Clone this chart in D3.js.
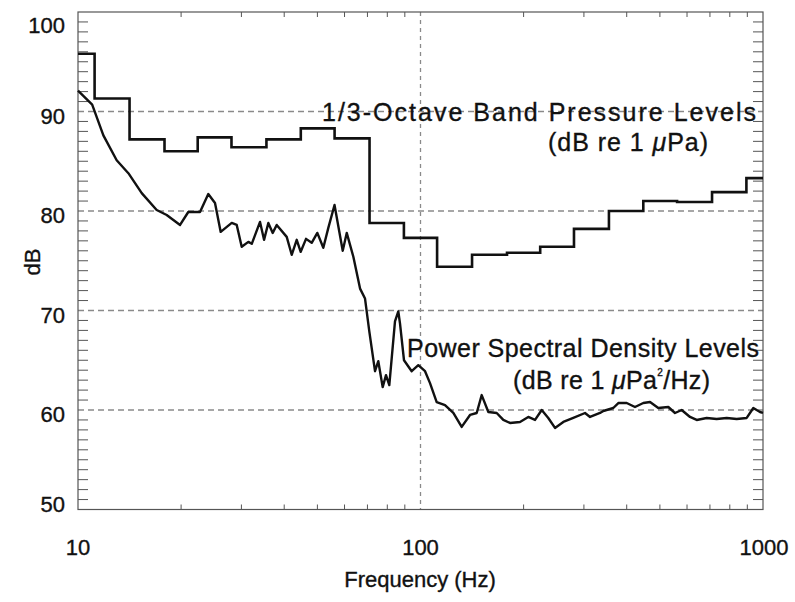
<!DOCTYPE html>
<html>
<head>
<meta charset="utf-8">
<script src="https://cdn.jsdelivr.net/npm/d3@7"></script>
<style>
  html, body { margin: 0; padding: 0; background: #fff; }
  svg { display: block; }
  text { font-family: "Liberation Sans", Arial, Helvetica, sans-serif; fill: #111; stroke: #111; stroke-width: 0.35px; }
</style>
</head>
<body>
<svg id="chart" width="795" height="602"></svg>
<script>
// 1/3-octave band centre frequencies (Hz) and band pressure levels (dB re 1 uPa)
const bandCenters = [10, 12.5, 16, 20, 25, 31.5, 40, 50, 63, 80, 100, 125, 160, 200, 250, 315, 400, 500, 630, 800, 1000];
const bandLevels  = [95.8, 91.3, 87.2, 86.0, 87.4, 86.4, 87.2, 88.3, 87.3, 78.8, 77.3, 74.4, 75.6, 75.8, 76.4, 78.2, 80.0, 81.0, 80.9, 81.9, 83.3];

// Power spectral density levels (dB re 1 uPa^2/Hz)
const psdFreq = [10, 11.0, 11.86, 12.97, 14.03, 15.35, 16.97, 18.15, 19.86, 20.99, 22.71, 24.01, 25.12, 26.10, 28.11, 29.07,
  30.06, 31.43, 32.16, 34.00, 34.93, 35.95, 37.03, 38.03, 40.68, 42.07, 43.51, 44.69, 46.32, 48.12, 49.97, 52.03, 53.81,
  56.10, 59.28, 60.90, 63.67, 66.61, 68.87, 70.88, 73.65, 75.30, 77.55, 79.30, 81.08, 84.24, 86.14, 87.12, 89.50, 94.25,
  98.53, 103.1, 106.6, 111.5, 117.9, 124.7, 131.9, 139.5, 145.9, 150.9, 157.8, 166.9, 174.5, 182.5, 195.2, 206.4, 216.0,
  225.9, 236.1, 247.0, 261.2, 279.3, 302.2, 312.6, 334.3, 341.8, 365.5, 378.1, 399.9, 422.9, 447.2, 467.9, 494.7, 529.1,
  553.5, 578.9, 612.2, 640.3, 684.8, 732.4, 783.4, 838.0, 896.2, 937.0, 980, 1000];
const psdLevel = [92.1, 90.7, 87.6, 85.1, 83.8, 81.8, 80.1, 79.6, 78.6, 79.9, 79.9, 81.7, 80.8, 77.9, 78.8, 78.6,
  76.4, 76.9, 76.7, 78.9, 77.1, 78.8, 77.8, 78.6, 77.4, 75.6, 77.1, 75.9, 77.2, 76.8, 77.8, 76.3, 78.3,
  80.6, 76.0, 77.8, 75.4, 72.2, 71.2, 67.9, 63.9, 64.9, 62.3, 63.5, 62.5, 68.9, 69.9, 68.7, 65.0, 63.9,
  64.5, 63.9, 62.7, 60.8, 60.5, 59.7, 58.3, 59.5, 59.7, 61.5, 59.8, 59.7, 59.0, 58.7, 58.8, 59.3, 59.0,
  60.0, 59.2, 58.2, 58.8, 59.2, 59.7, 59.3, 59.7, 59.9, 60.2, 60.7, 60.7, 60.3, 60.7, 60.8, 60.2, 60.3,
  59.7, 60.0, 59.3, 59.0, 59.2, 59.1, 59.2, 59.1, 59.2, 60.2, 59.8, 59.7];

const yTickValues = [50, 60, 70, 80, 90, 100];
const yTickLabels = ["50", "60", "70", "80", "90", "100"];
const xTickValues = [10, 100, 1000];
const xTickLabels = ["10", "100", "1000"];

const L = 78, R = 763, T = 12, B = 509.5;
const svg = d3.select("#chart");
const x = d3.scaleLog().domain([10, 1000]).range([L, R]);
const y = d3.scaleLinear().domain([50, 100]).range([B, T]);

// grid lines
const g = svg.append("g");
[60, 70, 80, 90].forEach(v => {
  g.append("line").attr("x1", L).attr("x2", R).attr("y1", y(v)).attr("y2", y(v))
    .attr("stroke", "#8a8a8a").attr("stroke-width", 1.3).attr("stroke-dasharray", "6,4");
});
g.append("line").attr("x1", x(100)).attr("x2", x(100)).attr("y1", T).attr("y2", B)
  .attr("stroke", "#8a8a8a").attr("stroke-width", 1.3).attr("stroke-dasharray", "4,4");

// minor ticks
const tickColor = "#555";
d3.range(51, 100).forEach(v => {
  if (v % 10 === 0) return;
  g.append("line").attr("x1", L).attr("x2", L + 10).attr("y1", y(v)).attr("y2", y(v)).attr("stroke", tickColor).attr("stroke-width", 1);
  g.append("line").attr("x1", R).attr("x2", R - 10).attr("y1", y(v)).attr("y2", y(v)).attr("stroke", tickColor).attr("stroke-width", 1);
});
[10, 100].forEach(dec => {
  d3.range(2, 10).forEach(m => {
    const xv = x(dec * m);
    g.append("line").attr("x1", xv).attr("x2", xv).attr("y1", B).attr("y2", B - 5).attr("stroke", tickColor).attr("stroke-width", 1);
    g.append("line").attr("x1", xv).attr("x2", xv).attr("y1", T).attr("y2", T + 5).attr("stroke", tickColor).attr("stroke-width", 1);
  });
});

// frame
svg.append("rect").attr("x", L).attr("y", T).attr("width", R - L).attr("height", B - T)
  .attr("fill", "none").attr("stroke", "#555").attr("stroke-width", 1.2);

// tick labels
const yOff = {100: 21, 50: 2};
yTickValues.forEach((v, i) => {
  svg.append("text").attr("x", 65).attr("y", y(v) + (yOff[v] !== undefined ? yOff[v] : 12))
    .attr("text-anchor", "end").attr("font-size", 22).text(yTickLabels[i]);
});
xTickValues.forEach((v, i) => {
  svg.append("text").attr("x", x(v) + (v === 1000 ? 1 : 0)).attr("y", 555)
    .attr("text-anchor", "middle").attr("font-size", 22).text(xTickLabels[i]);
});

// axis titles
svg.append("text").attr("transform", "translate(40,262) rotate(-90)")
  .attr("text-anchor", "middle").attr("font-size", 22).text("dB");
svg.append("text").attr("x", 420).attr("y", 587)
  .attr("text-anchor", "middle").attr("font-size", 22).text("Frequency (Hz)");

// 1/3-octave step line
const edges = bandCenters.map((c, i) => {
  const lo = i === 0 ? 10 : Math.sqrt(bandCenters[i - 1] * c);
  const hi = i === bandCenters.length - 1 ? 1000 : Math.sqrt(bandCenters[i + 1] * c);
  return [lo, hi];
});
const stepPts = [];
bandLevels.forEach((v, i) => { stepPts.push([edges[i][0], v]); stepPts.push([edges[i][1], v]); });
const line = d3.line().x(d => x(d[0])).y(d => y(d[1]));
svg.append("path").attr("d", line(stepPts)).attr("fill", "none")
  .attr("stroke", "#111").attr("stroke-width", 2.6).attr("stroke-linejoin", "miter");

// PSD line
const psdPts = psdFreq.map((f, i) => [f, psdLevel[i]]);
svg.append("path").attr("d", line(psdPts)).attr("fill", "none")
  .attr("stroke", "#111").attr("stroke-width", 2.4).attr("stroke-linejoin", "round");

// annotations
const ann = svg.append("g").attr("font-size", 25);
ann.append("text").attr("x", 322).attr("y", 121).attr("textLength", 434).attr("lengthAdjust", "spacing")
  .text("1/3-Octave Band Pressure Levels");
const t2 = ann.append("text").attr("x", 548).attr("y", 151).attr("textLength", 160).attr("lengthAdjust", "spacing");
t2.append("tspan").text("(dB re 1 ");
t2.append("tspan").attr("font-style", "italic").text("\u03BC");
t2.append("tspan").text("Pa)");
ann.append("text").attr("x", 407).attr("y", 357).attr("textLength", 352).attr("lengthAdjust", "spacing")
  .text("Power Spectral Density Levels");
const t4 = ann.append("text").attr("x", 513).attr("y", 389).attr("textLength", 197).attr("lengthAdjust", "spacing");
t4.append("tspan").text("(dB re 1 ");
t4.append("tspan").attr("font-style", "italic").text("\u03BC");
t4.append("tspan").text("Pa");
t4.append("tspan").attr("font-size", 10).attr("dy", -13).text("2");
t4.append("tspan").attr("dy", 13).text("/Hz)");
</script>
</body>
</html>
